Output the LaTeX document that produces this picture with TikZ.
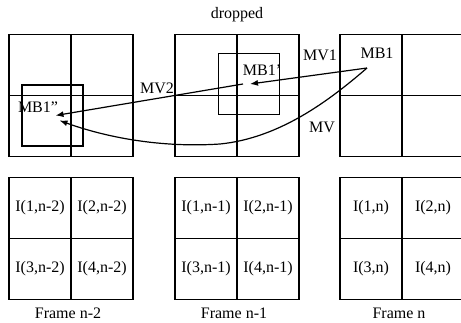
\documentclass[tikz,border=0pt]{standalone}
\usepackage{fontspec}
\setmainfont{Liberation Serif}
\usetikzlibrary{arrows.meta, positioning}

\tikzset{
  cell/.style={draw, line width=1.2pt, minimum width=62pt, minimum height=61pt, inner sep=0pt, outer sep=0pt},
  mbbox/.style={draw, line width=1.2pt, minimum width=61pt, minimum height=61pt, inner sep=0pt},
  mvarrow/.style={-{Latex[length=8pt,width=6pt]}, line width=1.2pt}
}

\begin{document}
\begin{tikzpicture}[x=1pt, y=-1pt, font=\fontsize{16}{19}\selectfont]
  \useasboundingbox (0,0) rectangle (461,322);
  \clip (0,0) rectangle (461,322);
  % frames: search area on top, intra blocks below
  \foreach \cx/\f/\t in {40/a/n-2, 206/b/n-1, 371/c/n} {
    \node[cell] (\f5) at (\cx,65) {};
    \node[cell, right=0pt of \f5] (\f6) {};
    \node[cell, below=0pt of \f5] (\f7) {};
    \node[cell, right=0pt of \f7] (\f8) {};
    \node[cell] (\f1) at (\cx,208) {I(1,\t)};
    \node[cell, right=0pt of \f1] (\f2) {I(2,\t)};
    \node[cell, below=0pt of \f1] (\f3) {I(3,\t)};
    \node[cell, right=0pt of \f3] (\f4) {I(4,\t)};
    \node[below=5pt of \f3.south east, xshift=-3pt] (\f lab) {Frame \t};
  }
  \node at (237,15) (drop) {dropped};
  % matched blocks
  \node[mbbox] (mbb2) at (52.5,115.5) {};
  \node[mbbox] (mbb1) at (249,84) {};
  \node at (377,53) (mb1) {MB1};
  \node at (262,70) (mb1p) {MB1'};
  \node at (38,107) (mb1pp) {MB1''};
  \node at (157,88) (mv2) {MV2};
  \node at (320,55) (mv1) {MV1};
  \node at (322,127) (mv) {MV};
  % motion vectors
  \coordinate (src) at (367,68);
  \draw[mvarrow] (src) -- ([xshift=1pt]mbb1.center);
  \draw[mvarrow] ([xshift=-6pt]mbb1.center) -- ([xshift=3pt]mbb2.center);
  \draw[mvarrow] (src) .. controls (330,100) and (280,138) .. (220,144)
    .. controls (160,148) and (105,137) .. ([xshift=7pt,yshift=-5pt]mbb2.center);
\end{tikzpicture}
\end{document}
